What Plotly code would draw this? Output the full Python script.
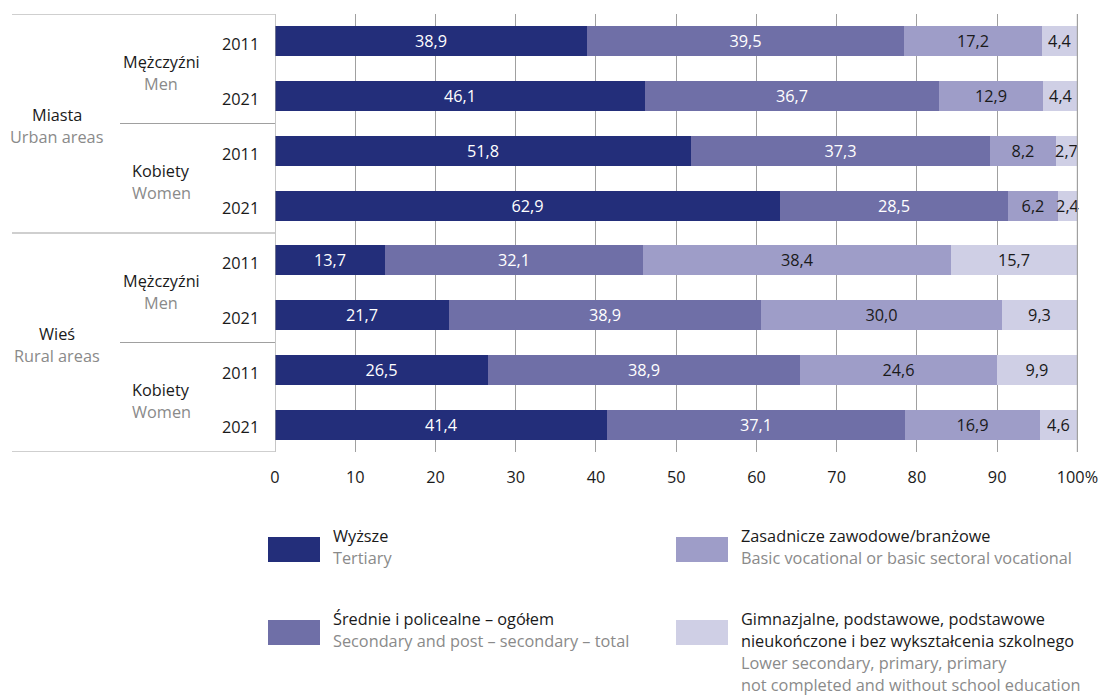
import plotly.graph_objects as go

# ---------------- data ----------------
years = ["2011", "2021", "2011", "2021", "2011", "2021", "2011", "2021"]
tertiary = [38.9, 46.1, 51.8, 62.9, 13.7, 21.7, 26.5, 41.4]
secondary = [39.5, 36.7, 37.3, 28.5, 32.1, 38.9, 38.9, 37.1]
basic_voc = [17.2, 12.9, 8.2, 6.2, 38.4, 30.0, 24.6, 16.9]
lower = [4.4, 4.4, 2.7, 2.4, 15.7, 9.3, 9.9, 4.6]

gender_pl = ["Mężczyźni", "Kobiety", "Mężczyźni", "Kobiety"]
gender_en = ["Men", "Women", "Men", "Women"]
area_pl = ["Miasta", "Wieś"]
area_en = ["Urban areas", "Rural areas"]

series_pl = ["Wyższe", "Średnie i policealne – ogółem", "Zasadnicze zawodowe/branżowe",
             "Gimnazjalne, podstawowe, podstawowe"]
series_pl2 = ["", "", "", "nieukończone i bez wykształcenia szkolnego"]
series_en = ["Tertiary", "Secondary and post – secondary – total",
             "Basic vocational or basic sectoral vocational", "Lower secondary, primary, primary"]
series_en2 = ["", "", "", "not completed and without school education"]

x_ticks = [0, 10, 20, 30, 40, 50, 60, 70, 80, 90, 100]
x_ticktext = ["0", "10", "20", "30", "40", "50", "60", "70", "80", "90", "100%"]

colors = ["#232e7a", "#6f6fa7", "#9e9dc8", "#cfcfe5"]
text_colors = ["white", "white", "#1a1a1a", "#1a1a1a"]

FONT = "Open Sans"
FS = 16.3
BLACK = "#1a1a1a"
GRAY = "#8a8a8a"
LINE = "#a0a0a0"

W, H = 1111, 695
L, R, T, B = 275, 32, 14, 243
PW = W - L - R
PH = H - T - B


def px_x(px):
    return (px - L) / PW


def px_y(py):
    return (H - B - py) / PH


rows = list(range(len(years)))
fig = go.Figure()
for vals, name, col, tc in zip([tertiary, secondary, basic_voc, lower], series_en, colors, text_colors):
    fig.add_trace(go.Bar(
        y=rows, x=vals, orientation="h", name=name,
        marker=dict(color=col, line=dict(width=0)),
        width=0.55,
        texttemplate="%{x:.1f}", textposition="inside", insidetextanchor="middle",
        textangle=0, constraintext="none", cliponaxis=False,
        insidetextfont=dict(color=tc, size=FS, family=FONT),
        showlegend=False,
    ))

shapes = []
annotations = []

# frame lines at 0 and 100
for xv in [0, 100]:
    shapes.append(dict(type="line", xref="x", yref="paper", x0=xv, x1=xv, y0=0, y1=1,
                       line=dict(color=LINE, width=1.2), layer="above"))

# left panel horizontal lines
for yv in [-0.5, 3.5, 7.5]:
    shapes.append(dict(type="line", xref="paper", yref="y", x0=px_x(12), x1=0, y0=yv, y1=yv,
                       line=dict(color=LINE, width=1.2)))
for yv in [1.5, 5.5]:
    shapes.append(dict(type="line", xref="paper", yref="y", x0=px_x(120), x1=0, y0=yv, y1=yv,
                       line=dict(color=LINE, width=1.2)))

# year labels
for i, yr in enumerate(years):
    annotations.append(dict(xref="paper", yref="y", x=px_x(261), y=i + 0.05, text=yr,
                            showarrow=False, xanchor="right", yanchor="middle",
                            font=dict(color=BLACK, size=FS, family=FONT)))

# gender labels
for g in range(4):
    yc = 2 * g + 0.5
    annotations.append(dict(xref="paper", yref="y", x=px_x(161), y=yc - 0.13, text=gender_pl[g],
                            showarrow=False, xanchor="center", yanchor="middle",
                            font=dict(color=BLACK, size=FS, family=FONT)))
    annotations.append(dict(xref="paper", yref="y", x=px_x(161), y=yc + 0.27, text=gender_en[g],
                            showarrow=False, xanchor="center", yanchor="middle",
                            font=dict(color=GRAY, size=FS, family=FONT)))

# area labels
for a in range(2):
    yc = 4 * a + 1.5
    annotations.append(dict(xref="paper", yref="y", x=px_x(57), y=yc - 0.15, text=area_pl[a],
                            showarrow=False, xanchor="center", yanchor="middle",
                            font=dict(color=BLACK, size=FS, family=FONT)))
    annotations.append(dict(xref="paper", yref="y", x=px_x(57), y=yc + 0.25, text=area_en[a],
                            showarrow=False, xanchor="center", yanchor="middle",
                            font=dict(color=GRAY, size=FS, family=FONT)))

# custom legend
leg_pos = [(268, 537), (268, 620), (676, 537), (676, 620)]
for k, (lx, ly) in enumerate(leg_pos):
    shapes.append(dict(type="rect", xref="paper", yref="paper",
                       x0=px_x(lx), x1=px_x(lx + 52), y0=px_y(ly), y1=px_y(ly + 25),
                       fillcolor=colors[k], line=dict(width=0)))
    lines = [(series_pl[k], BLACK)]
    if series_pl2[k]:
        lines.append((series_pl2[k], BLACK))
    lines.append((series_en[k], GRAY))
    if series_en2[k]:
        lines.append((series_en2[k], GRAY))
    for j, (txt, c) in enumerate(lines):
        annotations.append(dict(xref="paper", yref="paper", x=px_x(lx + 63), y=px_y(ly - 1 + 22 * j),
                                text=txt, showarrow=False, xanchor="left", yanchor="middle",
                                font=dict(color=c, size=FS, family=FONT)))

fig.update_layout(
    width=W, height=H,
    margin=dict(l=L, r=R, t=T, b=B),
    barmode="stack",
    bargap=0,
    separators=", ",
    plot_bgcolor="white", paper_bgcolor="white",
    font=dict(family=FONT, size=FS, color=BLACK),
    xaxis=dict(range=[0, 100.2], tickvals=x_ticks, ticktext=x_ticktext, showgrid=True,
               gridcolor=LINE, gridwidth=1, zeroline=False, showline=False, ticks="",
               ticklabelstandoff=14, tickfont=dict(size=FS, family=FONT, color=BLACK),
               fixedrange=True),
    yaxis=dict(range=[7.5, -0.5], showticklabels=False, showgrid=False, zeroline=False,
               showline=False, ticks="", fixedrange=True),
    shapes=shapes,
    annotations=annotations,
)

fig.write_html("out.html", config={"displayModeBar": False},
               post_script="document.body.style.margin='0';document.body.style.overflow='hidden';")
